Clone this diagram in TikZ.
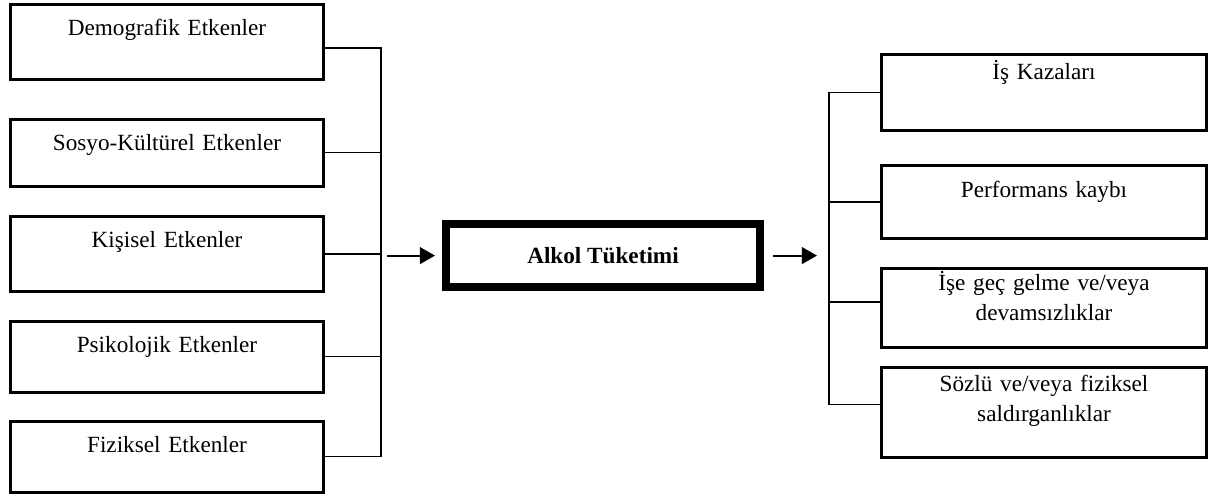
\documentclass[tikz,border=0pt]{standalone}
\usepackage{fontspec}
\setmainfont{Liberation Serif}
\usetikzlibrary{arrows.meta, positioning, calc}

\begin{document}
\begin{tikzpicture}[
    etken/.style={
        rectangle, draw, line width=2.2pt,
        minimum width=7.825cm, text width=7.4cm, inner sep=0pt,
        text height=0.77cm, text depth=1.0cm,
        align=center, font=\fontsize{16.5}{21.3}\selectfont
    },
    sonuc/.style={
        etken, minimum width=8.125cm
    },
    merkez/.style={
        rectangle, draw, line width=0.2cm,
        minimum width=7.85cm, minimum height=1.575cm, inner sep=0pt,
        align=center, font=\fontsize{16.5}{20}\selectfont\bfseries
    },
    bag/.style={line width=0.9pt},
    ok/.style={line width=1.5pt, -{Triangle[length=0.38cm, width=0.42cm]}}
]

\useasboundingbox (0,0) rectangle (30.225,-12.5);

% etkenler
\node[etken, text depth=1.1cm] (dem) at (4.175,-1.048) {Demografik Etkenler};
\node[etken, text depth=0.9cm] (sos) at (4.175,-3.82)  {Sosyo-Kültürel Etkenler};
\node[etken, text depth=1.1cm] (kis) at (4.175,-6.35)  {Kişisel Etkenler};
\node[etken]                   (psi) at (4.175,-8.92)  {Psikolojik Etkenler};
\node[etken]                   (fiz) at (4.175,-11.42) {Fiziksel Etkenler};

\node[merkez] (alkol) at (15.075,-6.39) {Alkol Tüketimi};

% sonuclar
\node[sonuc, text height=0.62cm, text depth=1.28cm] (kaza)  at (26.1,-2.31)  {İş Kazaları};
\node[sonuc, text height=0.79cm, text depth=1.04cm] (perf)  at (26.1,-5.05)  {Performans kaybı};
\node[sonuc, text height=0.56cm, text depth=1.42cm] (gec)   at (26.1,-7.70)  {İşe geç gelme ve/veya\\devamsızlıklar};
\node[sonuc, text height=0.6cm, text depth=1.65cm]  (sozlu) at (26.1,-10.31) {Sözlü ve/veya fiziksel\\saldırganlıklar};

\coordinate (ljoin) at (9.525,-6.39);
\coordinate (rjoin) at (20.725,-6.39);

\foreach \n/\d in {dem/-0.15,sos/0,kis/0,psi/0,fiz/0}
    \draw[bag] ([yshift=\d cm]\n.east) -| (ljoin);
\foreach \n/\d in {kaza/0,perf/0,gec/0.15,sozlu/0.2}
    \draw[bag] (rjoin) |- ([yshift=\d cm]\n.west);

\draw[ok, shorten >=0.175cm] ([xshift=0.15cm]ljoin) -- (alkol.west);
\draw[ok] ([xshift=0.225cm]alkol.east) -- ([xshift=-0.3cm]rjoin);

\end{tikzpicture}
\end{document}
